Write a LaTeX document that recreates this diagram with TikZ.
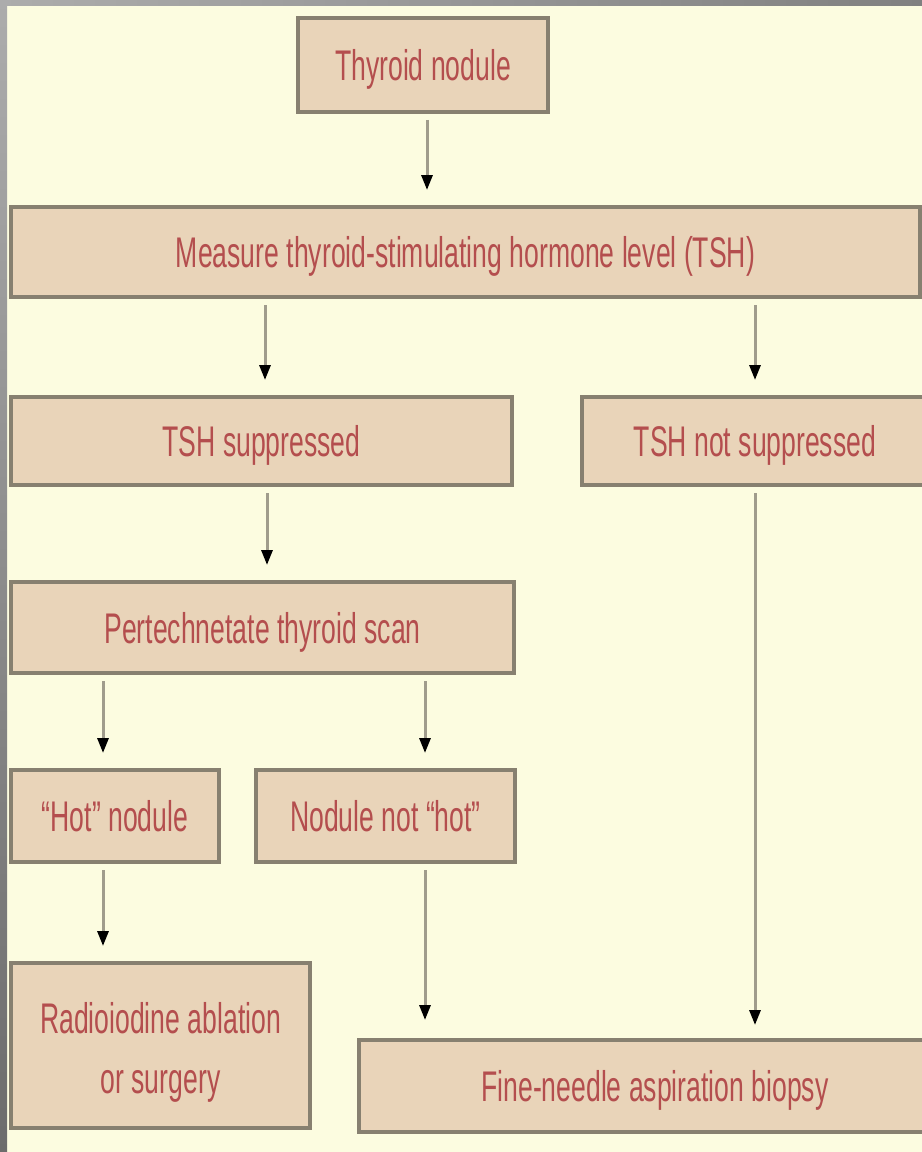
\documentclass[tikz,border=0pt]{standalone}
\usepackage{fontspec}
\setmainfont[FakeStretch=0.62]{Liberation Sans}
\usetikzlibrary{arrows.meta}
\definecolor{bgcream}{RGB}{252,252,224}
\definecolor{boxfill}{RGB}{233,212,185}
\definecolor{boxline}{RGB}{135,128,112}
\definecolor{txtred}{RGB}{180,78,78}
\definecolor{arrline}{RGB}{160,156,140}
\definecolor{frameA}{RGB}{172,172,172}
\definecolor{frameB}{RGB}{128,128,128}
\definecolor{frameC}{RGB}{108,108,108}
\tikzset{
  fbox/.style={draw=boxline, fill=boxfill, line width=0.045cm, inner sep=0pt, outer sep=0pt,
    text=txtred, font=\fontsize{12.2}{17}\selectfont, align=center},
  onel/.style={text height=0.31cm, text depth=0cm},
  arr/.style={draw=arrline, line width=0.03cm, -{Triangle[length=0.15cm, width=0.11cm, color=black]},
    shorten <=0.08cm, shorten >=0.17cm}
}
\begin{document}
\begin{tikzpicture}
\useasboundingbox (0,0) rectangle (9.22,-11.52);
\clip (0,0) rectangle (9.22,-11.52);
\fill[bgcream] (0,0) rectangle (9.22,-11.52);
\shade[left color=frameA, right color=frameB] (0,0) rectangle (9.22,-0.06);
\shade[top color=frameA, bottom color=frameC] (0,0) rectangle (0.07,-11.52);

\node[fbox, onel, minimum width=2.50cm, minimum height=0.94cm] (t) at (4.23,-0.65) {Thyroid nodule};
\node[fbox, onel, minimum width=9.09cm, minimum height=0.90cm] (m) at (4.655,-2.52) {Measure thyroid-stimulating hormone level (TSH)};
\node[fbox, onel, minimum width=5.01cm, minimum height=0.88cm] (s) at (2.615,-4.41) {TSH suppressed};
\node[fbox, onel, minimum width=3.46cm, minimum height=0.88cm] (ns) at (7.55,-4.41) {TSH not suppressed};
\node[fbox, onel, minimum width=5.03cm, minimum height=0.91cm] (p) at (2.625,-6.275) {Pertechnetate thyroid scan};
\node[fbox, onel, minimum width=2.08cm, minimum height=0.92cm] (hot) at (1.15,-8.16) {“Hot” nodule};
\node[fbox, onel, minimum width=2.59cm, minimum height=0.92cm] (nh) at (3.855,-8.16) {Nodule not “hot”};
\node[fbox, minimum width=2.99cm, minimum height=1.65cm,
  label={[text=txtred, font=\fontsize{12.2}{17}\selectfont, align=center, inner sep=0pt, yshift=-0.07cm]center:Radioiodine ablation\\or surgery}] (r) at (1.605,-10.455) {};
\node[fbox, onel, minimum width=5.92cm, minimum height=0.92cm] (f) at (6.55,-10.86) {Fine-needle aspiration biopsy};

\coordinate (c1) at (4.27,0);
\coordinate (c2) at (2.65,0);
\coordinate (c3) at (7.55,0);
\coordinate (c4) at (2.67,0);
\coordinate (c5) at (1.03,0);
\coordinate (c6) at (4.25,0);

\draw[arr] (t.south -| c1) -- (m.north -| c1);
\draw[arr] (m.south -| c2) -- (s.north -| c2);
\draw[arr] (m.south -| c3) -- (ns.north -| c3);
\draw[arr] (s.south -| c4) -- (p.north -| c4);
\draw[arr] (p.south -| c5) -- (hot.north -| c5);
\draw[arr] (p.south -| c6) -- (nh.north -| c6);
\draw[arr] (hot.south -| c5) -- (r.north -| c5);
\draw[arr, shorten >=0.20cm] (nh.south -| c6) -- (f.north -| c6);
\draw[arr, shorten >=0.15cm] (ns.south -| c3) -- (f.north -| c3);
\end{tikzpicture}
\end{document}
